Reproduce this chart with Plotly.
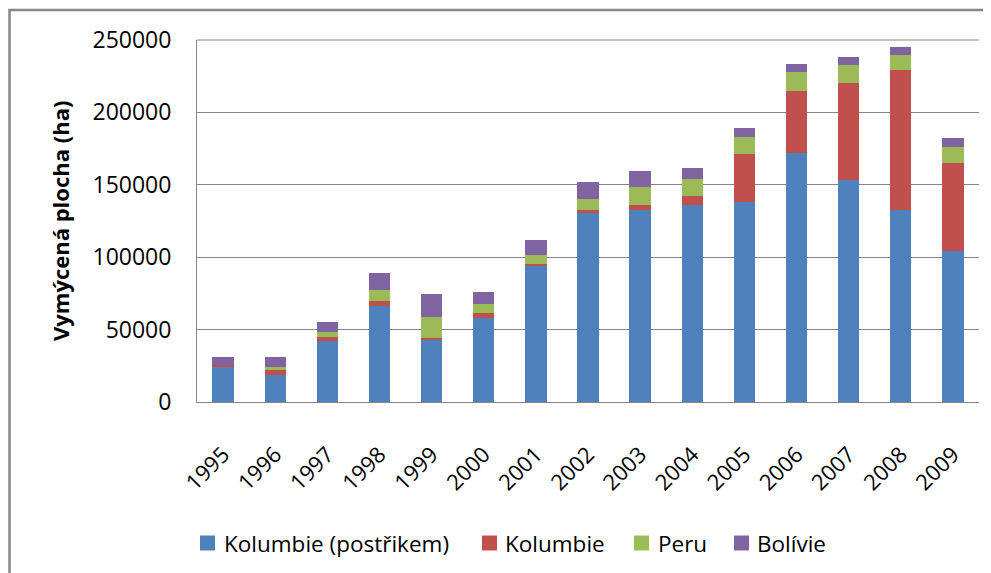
import plotly.graph_objects as go

years = ["1995", "1996", "1997", "1998", "1999", "2000", "2001", "2002",
         "2003", "2004", "2005", "2006", "2007", "2008", "2009"]

kolumbie_postrikem = [24000, 18500, 41900, 66000, 43100, 58100, 94200, 130400,
                      132800, 136000, 138000, 172300, 153500, 132500, 104300]
kolumbie = [1800, 3500, 2800, 3500, 1000, 3500, 1400, 2500,
            3500, 6400, 33000, 42400, 66500, 96800, 60700]
peru = [0, 2000, 3500, 7700, 14400, 6300, 6000, 7000,
        12400, 11700, 11800, 13100, 12400, 10300, 11000]
bolivie = [5500, 7300, 7000, 11600, 16000, 8400, 10000, 12000,
           11000, 7600, 6200, 5600, 6200, 5500, 6200]

series_names = ["Kolumbie (postřikem)", "Kolumbie", "Peru", "Bolívie"]
series_values = [kolumbie_postrikem, kolumbie, peru, bolivie]
colors = ["#4F81BD", "#C0504D", "#9BBB59", "#8064A2"]

FONT = "Open Sans"
GRID = "#868686"

fig = go.Figure()
for name, vals, col in zip(series_names, series_values, colors):
    fig.add_trace(go.Bar(x=years, y=vals, name=name, showlegend=False,
                         marker=dict(color=col, line=dict(width=0))))

# page offset of the figure inside the browser window (body margin)
OFF = 8
W, H = 991 - OFF, 573 - OFF
L, R, T, B = 197 - OFF, 12, 40 - OFF, 171
pw, ph = W - L - R, H - T - B


def px_x(x):
    return (x - OFF - L) / pw


def px_y(y):
    return (H - B - (y - OFF)) / ph


# legend drawn as layout items (square + text per series)
legend_sq_x = [200, 482, 634, 734]
legend_txt_x = [222, 503, 656, 755]
SQ = 15
LEG_Y = 543

shapes = [dict(type="rect", xref="paper", yref="paper",
               x0=px_x(9.5), x1=px_x(1000), y0=px_y(600), y1=px_y(10),
               line=dict(color=GRID, width=2.5), fillcolor="rgba(0,0,0,0)"),
          dict(type="line", xref="paper", yref="paper",
               x0=0, x1=1, y0=1, y1=1, line=dict(color=GRID, width=1))]
annotations = [dict(text="<b>Vymýcená plocha (ha)</b>", textangle=-90,
                    xref="paper", yref="paper", x=px_x(60), y=0.5,
                    xanchor="center", yanchor="middle", showarrow=False,
                    font=dict(family=FONT, size=22, color="#000000"))]

for name, col, sx, tx in zip(series_names, colors, legend_sq_x, legend_txt_x):
    shapes.append(dict(type="rect", xref="paper", yref="paper",
                       x0=px_x(sx), x1=px_x(sx + SQ),
                       y0=px_y(LEG_Y + SQ / 2), y1=px_y(LEG_Y - SQ / 2),
                       line=dict(width=0), fillcolor=col))
    annotations.append(dict(text=name, xref="paper", yref="paper",
                            x=px_x(tx), y=px_y(LEG_Y), xanchor="left",
                            yanchor="middle", showarrow=False,
                            font=dict(family=FONT, size=22.5, color="#000000")))

fig.update_layout(
    width=W, height=H,
    margin=dict(l=L, r=R, t=T, b=B, autoexpand=False),
    barmode="stack",
    bargap=0.59,
    plot_bgcolor="white",
    paper_bgcolor="white",
    font=dict(family=FONT, size=22, color="#000000"),
    showlegend=False,
    xaxis=dict(type="category", tickangle=-45, showgrid=False,
               showline=True, linecolor=GRID, linewidth=1,
               ticks="", ticklabelstandoff=30, automargin=False,
               tickfont=dict(family=FONT, size=22, color="#000000")),
    yaxis=dict(range=[0, 250000], dtick=50000, showgrid=True,
               gridcolor=GRID, gridwidth=1, zeroline=False,
               showline=True, linecolor=GRID, linewidth=1, automargin=False,
               ticks="", ticklabelstandoff=20, tickformat="d",
               tickfont=dict(family=FONT, size=23, color="#000000")),
    annotations=annotations,
    shapes=shapes,
)

fig.write_html("out.html")
